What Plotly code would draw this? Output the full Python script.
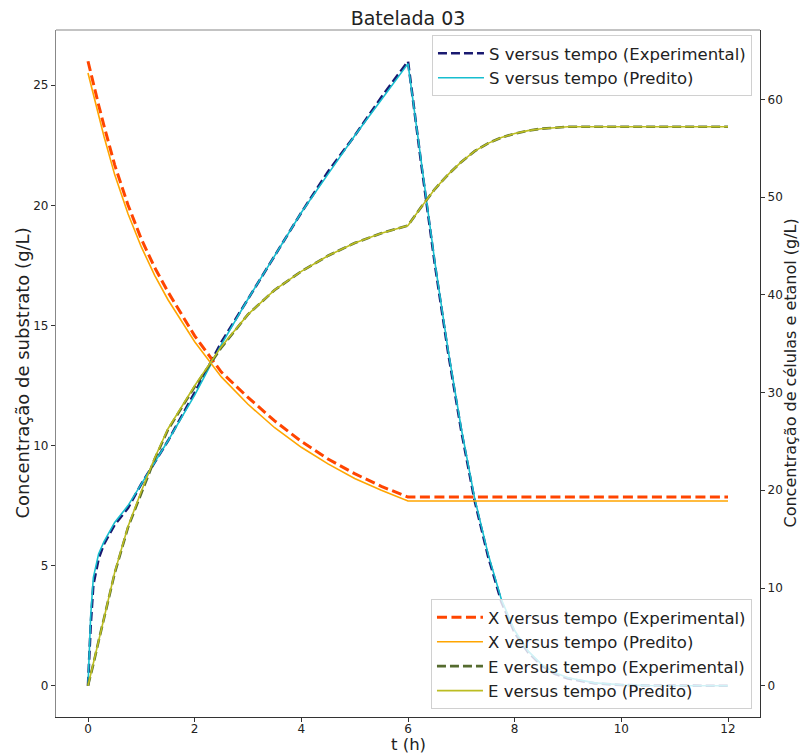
import plotly.graph_objects as go

# ---- data ----
t = [0, 0.05, 0.1, 0.2, 0.3, 0.5, 0.75, 1, 1.25, 1.5, 2, 2.5, 3, 3.5, 4, 4.5, 5, 5.5, 6,
     6.25, 6.5, 6.75, 7, 7.25, 7.5, 7.75, 8, 8.25, 8.5, 8.75, 9, 9.5, 10, 10.5, 11, 11.5, 12]

S_exp = [0.0, 2.5, 4.2, 5.3, 5.9, 6.7, 7.4, 8.4, 9.3, 10.2, 12.2, 14.3, 16.1, 17.9, 19.7, 21.4, 22.9, 24.5, 26.0,
         21.7, 17.6, 13.9, 10.6, 7.7, 5.4, 3.5, 2.2, 1.4, 0.85, 0.5, 0.3, 0.1, 0.03, 0.01, 0.0, 0.0, 0.0]
S_pred = [0.0, 2.9, 4.5, 5.5, 6.0, 6.8, 7.5, 8.4, 9.3, 10.2, 12.1, 14.2, 16.1, 17.9, 19.7, 21.3, 22.9, 24.4, 25.9,
          21.8, 17.7, 14.0, 10.7, 7.8, 5.5, 3.6, 2.3, 1.45, 0.9, 0.55, 0.33, 0.12, 0.04, 0.01, 0.0, 0.0, 0.0]

X_exp = [63.9, 62.7, 61.6, 59.4, 57.3, 53.3, 49.2, 45.7, 42.8, 40.3, 35.8, 32.1, 29.5, 27.1, 25.0, 23.2, 21.7, 20.4, 19.3,
         19.3, 19.3, 19.3, 19.3, 19.3, 19.3, 19.3, 19.3, 19.3, 19.3, 19.3, 19.3, 19.3, 19.3, 19.3, 19.3, 19.3, 19.3]
X_pred = [62.7, 61.6, 60.5, 58.3, 56.2, 52.3, 48.3, 44.9, 42.0, 39.5, 35.2, 31.6, 28.8, 26.4, 24.4, 22.7, 21.2, 20.0, 18.9,
          18.9, 18.9, 18.9, 18.9, 18.9, 18.9, 18.9, 18.9, 18.9, 18.9, 18.9, 18.9, 18.9, 18.9, 18.9, 18.9, 18.9, 18.9]

E_exp = [0.0, 1.0, 2.2, 4.6, 6.8, 11.5, 16.2, 19.8, 23.2, 26.2, 30.6, 34.6, 38.0, 40.5, 42.4, 44.0, 45.3, 46.3, 47.1,
         49.0, 50.8, 52.3, 53.6, 54.7, 55.5, 56.1, 56.5, 56.8, 57.0, 57.1, 57.2, 57.2, 57.2, 57.2, 57.2, 57.2, 57.2]
E_pred = [0.0, 1.1, 2.3, 4.7, 6.9, 11.6, 16.3, 19.9, 23.3, 26.3, 30.7, 34.7, 38.0, 40.5, 42.4, 44.0, 45.3, 46.3, 47.1,
          49.0, 50.8, 52.3, 53.6, 54.7, 55.5, 56.1, 56.5, 56.8, 57.0, 57.1, 57.2, 57.2, 57.2, 57.2, 57.2, 57.2, 57.2]

x_title = "t (h)"
y_title = "Concentração de substrato (g/L)"
y2_title = "Concentração de células e etanol (g/L)"

FONT = "DejaVu Sans"
W, H = 800, 753
L, R, T, B = 56, 40, 30, 36

fig = go.Figure()
fig.add_trace(go.Scatter(x=t, y=S_exp, mode="lines", name="S versus tempo (Experimental)",
                         line=dict(color="#191970", width=2.6, dash="9px,4px"), legend="legend"))
fig.add_trace(go.Scatter(x=t, y=S_pred, mode="lines", name="S versus tempo (Predito)",
                         line=dict(color="#17becf", width=1.6), legend="legend"))
fig.add_trace(go.Scatter(x=t, y=X_exp, mode="lines", name="X versus tempo (Experimental)",
                         line=dict(color="#ff4500", width=3, dash="10px,4.5px"), yaxis="y2", legend="legend2"))
fig.add_trace(go.Scatter(x=t, y=X_pred, mode="lines", name="X versus tempo (Predito)",
                         line=dict(color="#ffa500", width=1.6), yaxis="y2", legend="legend2"))
fig.add_trace(go.Scatter(x=t, y=E_exp, mode="lines", name="E versus tempo (Experimental)",
                         line=dict(color="#556b2f", width=2.6, dash="9px,4px"), yaxis="y2", legend="legend2"))
fig.add_trace(go.Scatter(x=t, y=E_pred, mode="lines", name="E versus tempo (Predito)",
                         line=dict(color="#bcbd22", width=1.6), yaxis="y2", legend="legend2"))

axis_common = dict(showgrid=False, zeroline=False, ticks="outside", ticklen=4, tickwidth=1,
                   tickcolor="#333", tickfont=dict(family=FONT, size=12, color="#222"), showline=True,
                   automargin=False)

pw = W - L - R
ph = H - T - B


def px_x(p):
    return (p - L) / pw


def px_y(p):
    return (H - B - p) / ph


fig.update_layout(
    width=W, height=H,
    margin=dict(l=L, r=R, t=T, b=B),
    paper_bgcolor="white", plot_bgcolor="white",
    font=dict(family=FONT, color="#222"),
    title=dict(text="Batelada 03", x=408 / W, xanchor="center",
               y=1 - 18 / H, yanchor="middle", font=dict(family=FONT, size=19, color="#222")),
    xaxis=dict(range=[-0.6, 12.6], tickvals=[0, 2, 4, 6, 8, 10, 12], linecolor="#333", linewidth=1.2,
               ticklabelstandoff=-4, **axis_common),
    yaxis=dict(range=[-1.3, 27.3], tickvals=[0, 5, 10, 15, 20, 25], linecolor="#888", linewidth=1.2,
               **axis_common),
    yaxis2=dict(range=[-3.2, 67.1], tickvals=[0, 10, 20, 30, 40, 50, 60], overlaying="y", side="right",
                linecolor="#333", linewidth=1.2, **axis_common),
    legend=dict(x=0.9886, xanchor="right", y=px_y(35), yanchor="top", itemwidth=46,
                bgcolor="rgba(255,255,255,0.8)", bordercolor="#d0d0d0", borderwidth=1,
                font=dict(family=FONT, size=16.5, color="#222")),
    legend2=dict(x=0.9886, xanchor="right", y=px_y(709), yanchor="bottom", itemwidth=46,
                 bgcolor="rgba(255,255,255,0.8)", bordercolor="#d0d0d0", borderwidth=1,
                 font=dict(family=FONT, size=16.5, color="#222")),
    shapes=[dict(type="line", xref="paper", yref="paper", x0=0, x1=1, y0=1, y1=1,
                 line=dict(color="#888", width=1.2))],
    annotations=[
        dict(text=x_title, xref="paper", yref="paper", x=px_x(408), y=px_y(744),
             xanchor="center", yanchor="middle", showarrow=False,
             font=dict(family=FONT, size=16.5, color="#222")),
        dict(text=y_title, xref="paper", yref="paper", x=px_x(22), y=0.5, textangle=-90,
             xanchor="center", yanchor="middle", showarrow=False,
             font=dict(family=FONT, size=18, color="#222")),
        dict(text=y2_title, xref="paper", yref="paper", x=px_x(790), y=0.5, textangle=-90,
             xanchor="center", yanchor="middle", showarrow=False,
             font=dict(family=FONT, size=16, color="#222")),
    ],
)

fig.write_html("out.html")
